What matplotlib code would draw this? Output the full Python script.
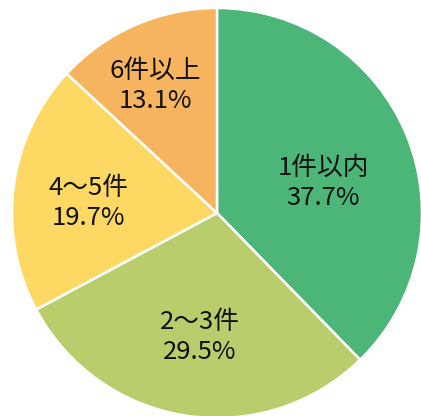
import numpy as np
import matplotlib
matplotlib.use("agg")
import matplotlib.pyplot as plt

plt.rcParams["font.family"] = ["Noto Sans CJK JP", "DejaVu Sans"]

labels = ["1件以内", "2～3件", "4～5件", "6件以上"]
shares = [37.7, 29.5, 19.7, 13.1]
colors = ["#4cb679", "#bacd6d", "#fdd963", "#f6b45e"]
label_dist = [0.54, 0.61, 0.63, 0.69]
label_turn = [-6.3, 1.0, 3.0, 2.2]  # small nudges off the wedge middle

W, H = 421, 416
cx, cy, r = 217, 213, 205

fig = plt.figure(figsize=(W / 100, H / 100), dpi=100)
ax = fig.add_axes([0, 0, 1, 1])
wedges, _ = ax.pie(shares, colors=colors, startangle=90, counterclock=False,
                   radius=1.0, wedgeprops=dict(edgecolor="white", linewidth=1.8))

for w, lab, val, d, t in zip(wedges, labels, shares, label_dist, label_turn):
    mid = np.deg2rad((w.theta1 + w.theta2) / 2 + t)
    ax.text(d * np.cos(mid), d * np.sin(mid), "{}\n{:.1f}%".format(lab, val),
            ha="center", va="center", fontsize=18.5, linespacing=1.22, color="#111111")

ax.set_xlim(-cx / r, (W - cx) / r)
ax.set_ylim(-(H - cy) / r, cy / r)
ax.set_aspect("equal")
ax.axis("off")
fig.savefig("out.png", dpi=100)
